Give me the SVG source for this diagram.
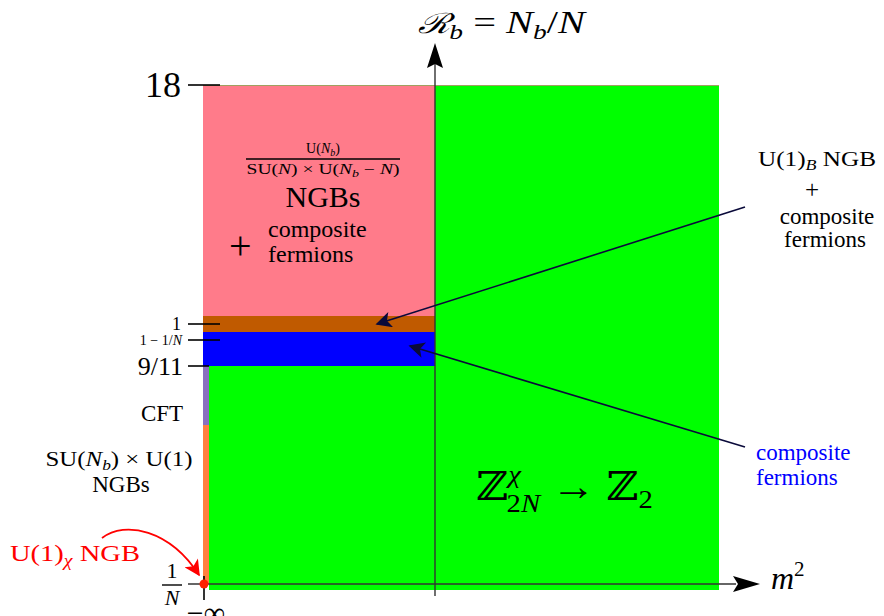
<svg xmlns="http://www.w3.org/2000/svg" width="884" height="616" viewBox="0 0 884 616">
<defs>
<style>
text{font-family:"Liberation Serif","DejaVu Serif",serif;fill:#000}
.it{font-style:italic}
.red{fill:#ff0000}
.blue{fill:#0000ff}
.tick{stroke:#000;stroke-width:1.6}
</style>
<marker id="ahn" viewBox="0 0 10 10" refX="9" refY="5" markerWidth="22" markerHeight="16" markerUnits="userSpaceOnUse" orient="auto"><path d="M0,0 L10,5 L0,10 L2.5,5 Z" fill="#0a0a3a"/></marker>
<marker id="ahr" viewBox="0 0 10 10" refX="9" refY="5" markerWidth="20" markerHeight="16" markerUnits="userSpaceOnUse" orient="auto"><path d="M0,0 L10,5 L0,10 L2.5,5 Z" fill="#ff0000"/></marker>
</defs>
<rect width="884" height="616" fill="#fff"/>
<g id="regions">
<rect id="pink" x="203" y="85" width="232" height="231" fill="#ff7b8a"/>
<rect id="green-right" x="435" y="85" width="284" height="505" fill="#00ff00"/>
<rect id="brown" x="203" y="316" width="232" height="16" fill="#c05a00"/>
<rect id="blue" x="203" y="332" width="232" height="34" fill="#0000ff"/>
<rect id="green-left" x="209" y="366" width="226" height="224" fill="#00ff00"/>
<rect id="purple" x="203" y="366" width="6" height="59" fill="#8a70c0"/>
<rect id="orange" x="203" y="425" width="6" height="159" fill="#ff8040"/>
<line x1="203" y1="85.5" x2="719" y2="85.5" stroke="#a0a060" stroke-width="1"/>
</g>
<g id="axes">
<line x1="435" y1="596" x2="435" y2="48" stroke="#333" stroke-width="1.4"/>
<path d="M435,43 L443,68 L435,64 L427,68 Z" fill="#000"/>
<line x1="188" y1="584" x2="736" y2="584" stroke="#333" stroke-width="1.4"/>
<path d="M760,584 L733,576 L738,584 L733,592 Z" fill="#000"/>
<line class="tick" x1="188" y1="85" x2="220" y2="85"/>
<line class="tick" x1="188" y1="324" x2="220" y2="324"/>
<line class="tick" x1="188" y1="340" x2="220" y2="340"/>
<line class="tick" x1="188" y1="366" x2="209" y2="366"/>
<line class="tick" x1="204" y1="576" x2="204" y2="600"/>
<circle cx="204" cy="584" r="4.5" fill="#ff2000"/>
<text x="418" y="33" font-size="31" textLength="167" lengthAdjust="spacingAndGlyphs"><tspan class="it" font-family="DejaVu Serif" font-size="28">ℛ</tspan><tspan class="it" font-size="21" dy="6">b</tspan><tspan dy="-6"> = </tspan><tspan class="it">N</tspan><tspan class="it" font-size="21" dy="6">b</tspan><tspan dy="-6">/</tspan><tspan class="it">N</tspan></text>
<text x="771" y="589" font-size="32" class="it">m<tspan font-size="21" dy="-13" font-style="normal">2</tspan></text>
</g>
<g id="tick-labels">
<text x="181" y="97" font-size="36" text-anchor="end">18</text>
<text x="181" y="330" font-size="18" text-anchor="end">1</text>
<text x="182" y="345" font-size="14" text-anchor="end">1 − 1/<tspan class="it">N</tspan></text>
<text x="183" y="375" font-size="26" text-anchor="end">9/11</text>
<text x="172" y="578" font-size="22" text-anchor="middle">1</text>
<line x1="162" y1="585" x2="182" y2="585" stroke="#000" stroke-width="1.4"/>
<text x="172" y="605" font-size="22" text-anchor="middle" class="it">N</text>
<text x="206" y="623" font-size="30" text-anchor="middle">−∞</text>
</g>
<g id="label-pink">
<text x="323" y="153" font-size="14" text-anchor="middle">U(<tspan class="it">N</tspan><tspan class="it" font-size="10" dy="3">b</tspan><tspan dy="-3">)</tspan></text>
<line x1="246" y1="159" x2="400" y2="159" stroke="#000" stroke-width="1.4"/>
<text x="323" y="174" font-size="14" text-anchor="middle" textLength="153" lengthAdjust="spacingAndGlyphs">SU(<tspan class="it">N</tspan>) × U(<tspan class="it">N</tspan><tspan class="it" font-size="10" dy="3">b</tspan><tspan dy="-3"> − </tspan><tspan class="it">N</tspan>)</text>
<text x="323" y="207" font-size="30" text-anchor="middle">NGBs</text>
<text x="229" y="259" font-size="40">+</text>
<text x="268" y="237" font-size="24">composite</text>
<text x="268" y="262" font-size="24">fermions</text>
</g>
<g id="label-cft"><text x="162" y="421" font-size="23" text-anchor="middle">CFT</text></g>
<g id="label-su">
<text x="119" y="466" font-size="20" text-anchor="middle" textLength="147" lengthAdjust="spacingAndGlyphs">SU(<tspan class="it">N</tspan><tspan class="it" font-size="14" dy="4">b</tspan><tspan dy="-4">) × U(1)</tspan></text>
<text x="121" y="492" font-size="23" text-anchor="middle">NGBs</text>
</g>
<g id="label-u1chi">
<text x="10" y="561" font-size="23" class="red" textLength="130" lengthAdjust="spacingAndGlyphs">U(1)<tspan class="it" font-size="16" dy="5">χ</tspan><tspan dy="-5"> NGB</tspan></text>
</g>
<g id="label-u1b">
<text x="817" y="166" font-size="21" text-anchor="middle" textLength="118" lengthAdjust="spacingAndGlyphs">U(1)<tspan class="it" font-size="15" dy="4">B</tspan><tspan dy="-4"> NGB</tspan></text>
<text x="812" y="198" font-size="25" text-anchor="middle">+</text>
<text x="827" y="224" font-size="23" text-anchor="middle">composite</text>
<text x="825" y="247" font-size="23" text-anchor="middle">fermions</text>
</g>
<g id="label-cf">
<text x="756" y="460" font-size="23" class="blue">composite</text>
<text x="756" y="485" font-size="23" class="blue">fermions</text>
</g>
<g id="label-z">
<text x="476" y="500" font-size="40" textLength="177" lengthAdjust="spacingAndGlyphs">ℤ<tspan class="it" font-size="26" dy="-17">χ</tspan><tspan font-size="26" dx="-13" dy="29">2</tspan><tspan class="it" font-size="26">N</tspan><tspan dy="-12"> → ℤ</tspan><tspan font-size="26" dy="8">2</tspan></text>
</g>
<g id="connectors">
<line x1="745" y1="207" x2="377" y2="324" stroke="#0a0a3a" stroke-width="1.6" marker-end="url(#ahn)"/>
<line x1="745" y1="447" x2="410" y2="346" stroke="#0a0a3a" stroke-width="1.6" marker-end="url(#ahn)"/>
<path d="M102,538 C125,520 170,530 199,575" fill="none" stroke="#ff0000" stroke-width="1.8" marker-end="url(#ahr)"/>
</g>
</svg>
